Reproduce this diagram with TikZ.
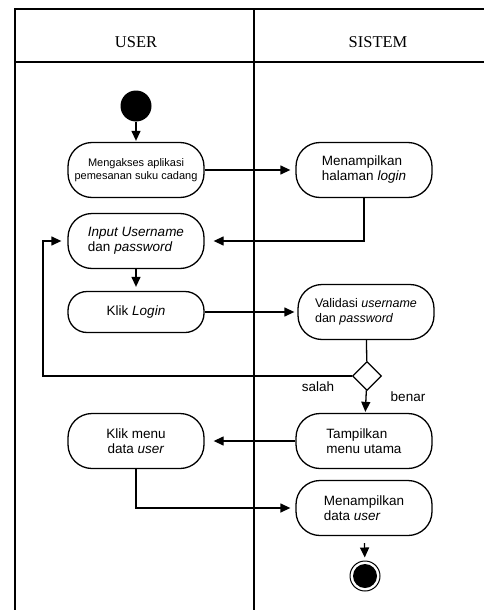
\documentclass[tikz,border=0pt]{standalone}
\usepackage{fontspec}
\setmainfont{Liberation Sans}
\newfontfamily\headfont{Liberation Serif}
\usetikzlibrary{arrows.meta,shapes.geometric}
\begin{document}
\begin{tikzpicture}[x=1pt,y=-1pt,
  act/.style={draw,line width=1.3pt,rounded corners=24pt,minimum width=136pt,minimum height=55pt,inner sep=2pt,font=\fontsize{13.5}{15}\selectfont},
  arr/.style={line width=1.3pt,-{Triangle[length=10pt,width=9pt]},shorten >=5pt},
  ln/.style={line width=1.3pt},
  frame/.style={line width=1.5pt},
  head/.style={font=\headfont\fontsize{16.5}{18}\selectfont},
  lbl/.style={font=\fontsize{13.5}{15}\selectfont}]
\useasboundingbox (0,0) rectangle (483,610);
% frame
\draw[frame] (15,615) -- (15,9) -- (490,9);
\draw[frame] (15,62) -- (490,62);
\draw[frame] (254,9) -- (254,615);
\node[head] (hu) at (136,42) {USER};
\node[head] (hs) at (378,42) {SISTEM};
% nodes
\node[circle,fill=black,minimum size=31pt,inner sep=0] (start) at (136,106) {};
\node[act,font=\fontsize{11}{13.5}\selectfont,align=center] (n1) at (136,170) {Mengakses aplikasi\\pemesanan suku cadang};
\node[act,align=left] (n2) at (364,170) {Menampilkan\\halaman \textit{login}};
\node[act,align=left] (n3) at (136,241) {\textit{Input Username}\\dan \textit{password}};
\node[act,minimum height=41pt,rounded corners=19pt] (n4) at (136,312) {Klik \textit{Login}};
\node[act,align=left,font=\fontsize{12.5}{14.5}\selectfont] (n5) at (366,312) {Validasi \textit{username}\\dan \textit{password}};
\node[draw,diamond,line width=1.3pt,minimum width=29pt,minimum height=29pt,inner sep=0] (d) at (367,376) {};
\node[act,align=left] (n6) at (364,441) {Tampilkan\\menu utama};
\node[act,align=center] (n7) at (136,441) {Klik menu\\data \textit{user}};
\node[act,align=left] (n8) at (364,508) {Menampilkan\\data \textit{user}};
\node[circle,draw,line width=1pt,minimum size=30pt,inner sep=0] (end) at (365,576) {};
\fill (end.center) circle (12pt);
\node[lbl] (ls) at (318,387) {salah};
\node[lbl] (lb) at (408,397) {benar};
\coordinate (lx) at (43,376);
% connectors
\draw[arr,shorten >=1pt] (start) -- (n1);
\draw[arr] (n1) -- (n2);
\draw[arr,shorten >=9pt] (n2.south) |- (n3.east);
\draw[arr,shorten >=4pt] (n3) -- (n4);
\draw[arr,shorten >=3pt] (n4) -- (n5);
\draw[ln] (n5) -- (d);
\draw[arr,shorten >=6pt] (d.west) -- (lx) |- (n3.west);
\draw[arr,shorten >=1pt] (d) -- (n6);
\draw[arr,shorten >=9pt] (n6) -- (n7);
\draw[arr] (n7.south) |- (n8.west);
\draw[arr,shorten <=7pt,shorten >=3pt] (n8) -- (end);
\end{tikzpicture}
\end{document}
